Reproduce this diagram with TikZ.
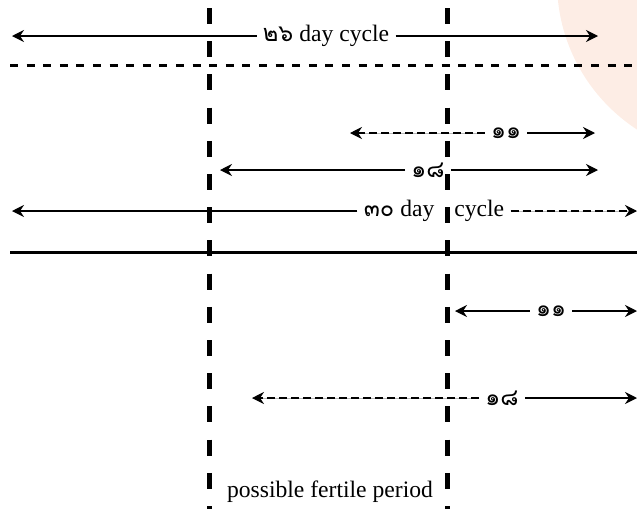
\documentclass[tikz,border=0pt]{standalone}
\usepackage{fontspec}
\setmainfont{Liberation Serif}
\newfontfamily\thaifont[Script=Thai]{Loma}
\usepackage{xcolor}
\usetikzlibrary{arrows.meta}
\definecolor{peach}{RGB}{253,237,229}

\begin{document}
\begin{tikzpicture}[
  x=0.5pt, y=-0.5pt,
  every node/.style={font=\fontsize{11.8}{14}\selectfont},
  lbl/.style    ={inner sep=3pt},
  arr/.style    ={-{Stealth[length=6pt,width=6pt,inset=2pt]}, line width=0.65pt},
  darr/.style   ={arr, dash pattern=on 4pt off 2pt,
                  preaction={draw=gray!55, solid}},
  fence/.style  ={line width=2.5pt, dash pattern=on 8pt off 8.6pt},
  cycdash/.style={line width=1.5pt, dash pattern=on 4pt off 4.3pt},
  bar/.style    ={line width=1.5pt},
]
  \useasboundingbox (0,0) rectangle (637,509);
  \begin{scope}
    \clip (0,0) rectangle (637,509);
    \fill[peach] (733,-18) circle [radius=88pt];
  \end{scope}

  % 26 day cycle
  \coordinate (t26l) at (12,36);
  \coordinate (t26r) at (598,36);
  \node[lbl] (l26) at (326,36) {{\thaifont ๒๖} day cycle};
  \draw[arr] (l26) -- (t26l);
  \draw[arr] (l26) -- (t26r);
  \draw[cycdash] (10,65) -- (637,65);

  \coordinate (u11l) at (350,133);
  \coordinate (u11r) at (595,133);
  \node[lbl] (u11) at (506,133) {\thaifont ๑๑};
  \draw[darr] (u11) -- (u11l);
  \draw[arr]  (u11) -- (u11r);

  \coordinate (u18l) at (220,170);
  \coordinate (u18r) at (598,170);
  \node[lbl] (u18) at (428,170) {\thaifont ๑๘};
  \draw[arr] (u18) -- (u18l);
  \draw[arr] (u18) -- (u18r);

  % 30 day cycle
  \coordinate (t30l) at (12,211);
  \coordinate (t30r) at (637,211);
  \node[lbl] (l30) at (434,211) {{\thaifont ๓๐} day\hspace{10pt}cycle};
  \draw[arr]  (l30) -- (t30l);
  \draw[darr] (l30) -- (t30r);
  \draw[bar] (10,252) -- (637,252);

  \coordinate (d11l) at (455,311);
  \coordinate (d11r) at (637,311);
  \node[lbl] (d11) at (551,311) {\thaifont ๑๑};
  \draw[arr] (d11) -- (d11l);
  \draw[arr] (d11) -- (d11r);

  \coordinate (d18l) at (252,398);
  \coordinate (d18r) at (637,398);
  \node[lbl] (d18) at (502,398) {\thaifont ๑๘};
  \draw[darr] (d18) -- (d18l);
  \draw[arr]  (d18) -- (d18r);

  % fertile window
  \draw[fence] (209,8) -- (209,509);
  \draw[fence] (447,8) -- (447,509);
  \node[anchor=base] (fert) at (330,497) {possible fertile period};
\end{tikzpicture}
\end{document}
